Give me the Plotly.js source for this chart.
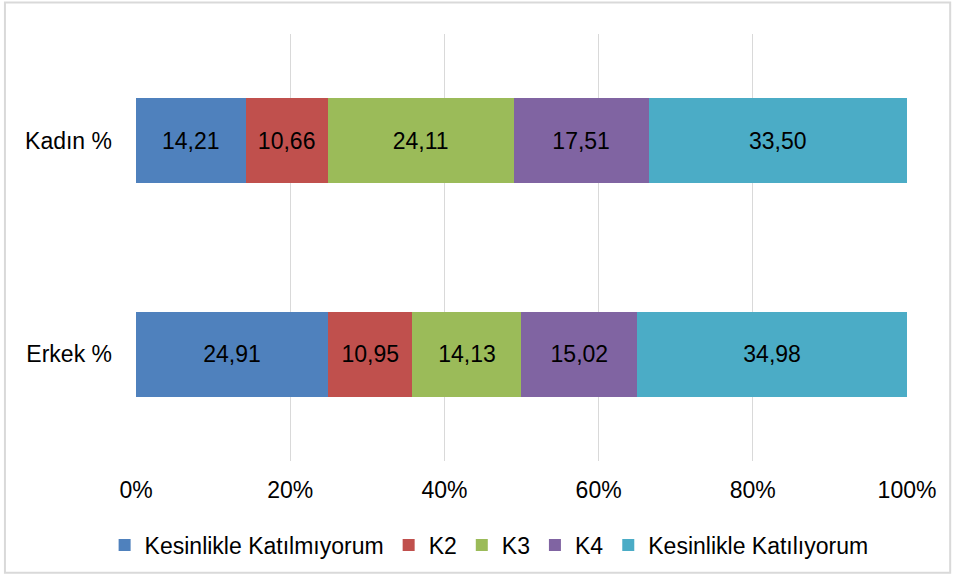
<!DOCTYPE html>
<html>
<head>
<meta charset="utf-8">
<script src="https://cdn.plot.ly/plotly-3.0.1.min.js"></script>
<style>body{margin:0;background:#fff}#c{width:957px;height:577px}</style>
</head>
<body>
<div id="c"></div>
<script>
const categories = ['Erkek %', 'Kadın %'];
const seriesNames = ['Kesinlikle Katılmıyorum', 'K2', 'K3', 'K4', 'Kesinlikle Katılıyorum'];
const erkek = [24.91, 10.95, 14.13, 15.02, 34.98];
const kadin = [14.21, 10.66, 24.11, 17.51, 33.50];
const colors = ['#4F81BD', '#C0504D', '#9BBB59', '#8064A2', '#4BACC6'];
const xTicks = [0, 20, 40, 60, 80, 100];
const xTickLabels = ['0%', '20%', '40%', '60%', '80%', '100%'];

const font = 'Liberation Sans, Arial, sans-serif';
const fs = 23;
const traces = seriesNames.map((name, i) => ({
  type: 'bar',
  orientation: 'h',
  name: name,
  y: categories,
  x: [erkek[i], kadin[i]],
  marker: {color: colors[i], line: {width: 0}},
  texttemplate: '%{x:.2f}',
  textposition: 'inside',
  insidetextanchor: 'middle',
  textfont: {color: '#000', size: fs, family: font},
  hoverinfo: 'none'
}));

const layout = {
  width: 957, height: 577,
  margin: {l: 136, r: 50, t: 34, b: 115},
  barmode: 'stack',
  bargap: 0.6,
  separators: ',.',
  font: {family: font, size: fs, color: '#000'},
  paper_bgcolor: '#fff', plot_bgcolor: '#fff',
  showlegend: true,
  legend: {orientation: 'h', x: 0.458, xanchor: 'center', y: -0.194, yanchor: 'middle',
           traceorder: 'normal', font: {size: fs, family: font}, itemwidth: 30},
  xaxis: {range: [0, 100], tickmode: 'array', tickvals: xTicks, ticktext: xTickLabels, showgrid: true,
          gridcolor: '#d9d9d9', gridwidth: 1, zeroline: false, showline: false,
          ticks: '', ticklabelstandoff: 13, fixedrange: true},
  yaxis: {categoryorder: 'array', categoryarray: categories, showgrid: false,
          zeroline: false, showline: false, ticks: '', ticklabelstandoff: 23, fixedrange: true},
  shapes: [{type: 'rect', xref: 'paper', yref: 'paper',
            x0: -0.17, x1: 1.056, y0: -0.262, y1: 1.074,
            line: {color: '#d9d9d9', width: 2}, fillcolor: 'rgba(0,0,0,0)', layer: 'below'}]
};
Plotly.newPlot('c', traces, layout, {displayModeBar: false, staticPlot: true});
</script>
</body>
</html>
